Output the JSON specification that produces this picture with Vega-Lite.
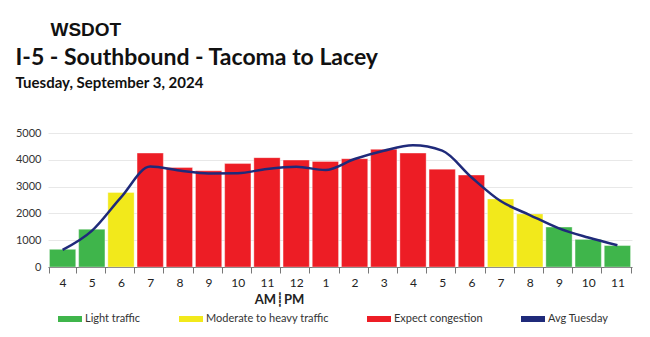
{
  "$schema": "https://vega.github.io/schema/vega-lite/v6.json",
  "background": "white",
  "padding": {"left": 15, "top": 21, "right": 19, "bottom": 5},
  "title": {"text": "WSDOT", "anchor": "start", "dx": 35, "font": "Liberation Sans", "fontSize": 19, "fontWeight": "bold", "color": "#111111", "offset": 7},
  "vconcat": [
    {
      "width": 584,
      "height": 134,
      "title": {
        "text": "I-5 - Southbound - Tacoma to Lacey",
        "subtitle": "Tuesday, September 3, 2024",
        "anchor": "start",
        "font": "Lato",
        "fontSize": 23,
        "fontWeight": "bold",
        "color": "#111111",
        "subtitleFont": "Lato",
        "subtitleFontSize": 15,
        "subtitleFontWeight": "bold",
        "subtitleColor": "#111111",
        "subtitlePadding": 6,
        "offset": 36
      },
      "data": {
        "values": [
          {"hour": "4 AM", "volume": 660, "level": "Light traffic", "avg": 640},
          {"hour": "5 AM", "volume": 1410, "level": "Light traffic", "avg": 1350},
          {"hour": "6 AM", "volume": 2780, "level": "Moderate to heavy traffic", "avg": 2600},
          {"hour": "7 AM", "volume": 4250, "level": "Expect congestion", "avg": 3750},
          {"hour": "8 AM", "volume": 3710, "level": "Expect congestion", "avg": 3600},
          {"hour": "9 AM", "volume": 3590, "level": "Expect congestion", "avg": 3490},
          {"hour": "10 AM", "volume": 3860, "level": "Expect congestion", "avg": 3500},
          {"hour": "11 AM", "volume": 4080, "level": "Expect congestion", "avg": 3660},
          {"hour": "12 PM", "volume": 3990, "level": "Expect congestion", "avg": 3740},
          {"hour": "1 PM", "volume": 3940, "level": "Expect congestion", "avg": 3620},
          {"hour": "2 PM", "volume": 4040, "level": "Expect congestion", "avg": 4030},
          {"hour": "3 PM", "volume": 4390, "level": "Expect congestion", "avg": 4340},
          {"hour": "4 PM", "volume": 4250, "level": "Expect congestion", "avg": 4540},
          {"hour": "5 PM", "volume": 3650, "level": "Expect congestion", "avg": 4340},
          {"hour": "6 PM", "volume": 3430, "level": "Expect congestion", "avg": 3350},
          {"hour": "7 PM", "volume": 2540, "level": "Moderate to heavy traffic", "avg": 2460},
          {"hour": "8 PM", "volume": 1980, "level": "Moderate to heavy traffic", "avg": 1940},
          {"hour": "9 PM", "volume": 1490, "level": "Light traffic", "avg": 1440},
          {"hour": "10 PM", "volume": 1030, "level": "Light traffic", "avg": 1100},
          {"hour": "11 PM", "volume": 800, "level": "Light traffic", "avg": 810}
        ]
      },
      "encoding": {
        "x": {
          "field": "hour",
          "type": "ordinal",
          "sort": null,
          "scale": {"paddingInner": 0.1, "paddingOuter": 0.05},
          "axis": {
            "title": "AM┊PM",
            "titleFont": "Lato",
            "titleFontSize": 13,
            "titleFontWeight": "bold",
            "titleColor": "#222222",
            "titleX": 231,
            "titleAlign": "center",
            "titlePadding": 5,
            "labelExpr": "split(datum.label, ' ')[0]",
            "labelAngle": 0,
            "labelFont": "Lato",
            "labelFontSize": 12,
            "labelColor": "#222222",
            "labelPadding": 4,
            "tickBand": "extent",
            "tickSize": 6,
            "tickColor": "#777777",
            "domainColor": "#777777",
            "grid": false
          }
        }
      },
      "layer": [
        {
          "mark": {"type": "bar", "stroke": "white", "strokeOpacity": 0.35, "strokeWidth": 1},
          "encoding": {
            "y": {
              "field": "volume",
              "type": "quantitative",
              "scale": {"domain": [0, 5000]},
              "axis": {
                "title": null,
                "values": [0, 1000, 2000, 3000, 4000, 5000],
                "format": "d",
                "labelOverlap": false,
                "domain": false,
                "ticks": false,
                "gridColor": "#e8e8e8",
                "labelFont": "Lato",
                "labelFontSize": 11,
                "labelColor": "#333333",
                "labelPadding": 7
              }
            },
            "color": {
              "field": "level",
              "type": "nominal",
              "scale": {
                "domain": ["Light traffic", "Moderate to heavy traffic", "Expect congestion", "Avg Tuesday"],
                "range": ["#3fb54b", "#f2e91b", "#ed1d25", "#1f2a7a"]
              },
              "legend": {
                "title": null,
                "orient": "none",
                "legendX": 10,
                "legendY": 174,
                "direction": "horizontal",
                "columnPadding": 38,
                "labelFont": "Lato",
                "labelFontSize": 11,
                "labelColor": "#333333",
                "labelOffset": 3,
                "symbolSize": 576,
                "symbolStrokeWidth": 0,
                "symbolOpacity": 1,
                "symbolType": "M-1,-0.25H1V0.25H-1Z",
                "encode": {
                  "symbols": {
                    "update": {
                      "shape": [
                        {"test": "datum.label === 'Avg Tuesday'", "value": "M-1,-0.11H1V0.11H-1Z"},
                        {"value": "M-1,-0.25H1V0.25H-1Z"}
                      ]
                    }
                  }
                }
              }
            }
          }
        },
        {
          "mark": {"type": "line", "interpolate": "monotone", "strokeWidth": 2.5},
          "encoding": {
            "y": {
              "field": "avg",
              "type": "quantitative",
              "axis": {
                "title": null,
                "values": [0, 1000, 2000, 3000, 4000, 5000],
                "format": "d",
                "labelOverlap": false,
                "domain": false,
                "ticks": false,
                "gridColor": "#e8e8e8",
                "labelFont": "Lato",
                "labelFontSize": 11,
                "labelColor": "#333333",
                "labelPadding": 7
              }
            },
            "color": {"datum": "Avg Tuesday"}
          }
        }
      ]
    }
  ],
  "config": {
    "view": {"stroke": null},
    "font": "Lato"
  }
}
